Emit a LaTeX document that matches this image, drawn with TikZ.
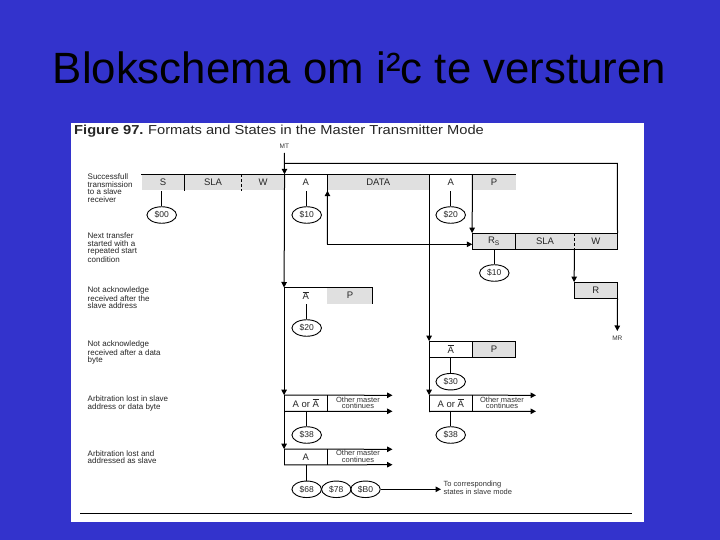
\documentclass[tikz,border=0pt]{standalone}
\usepackage{fontspec}
\usepackage{graphicx}
\setmainfont{Liberation Sans}
\usetikzlibrary{arrows.meta,shapes.geometric}
\definecolor{slideblue}{HTML}{3333CC}
\definecolor{cellgray}{HTML}{E0E0E0}
\tikzset{
  x=1pt,y=-1pt,
  cell/.style={inner sep=0pt,minimum height=16pt,font=\fontsize{9.5}{10}\selectfont,text=black!85},
  cellg/.style={cell,fill=cellgray},
  state/.style={ellipse,draw=black,line width=0.9pt,inner sep=0pt,minimum width=29.5pt,minimum height=16.5pt,font=\fontsize{8.5}{9}\selectfont,text=black!85},
  note/.style={anchor=north west,inner sep=0pt,align=left,font=\fontsize{8}{7.4}\selectfont,text=black!85},
  other/.style={inner sep=0pt,align=center,font=\fontsize{7.5}{6.6}\selectfont,text=black!80},
  tiny/.style={inner sep=0pt,font=\fontsize{6.5}{7}\selectfont,text=black!80},
  wire/.style={line width=1pt,draw=black},
  arr/.style={wire,-{Triangle[length=5.5pt,width=5.5pt]}},
}
\newcommand{\nack}{$\overline{\mbox{A}}$}
\begin{document}
\begin{tikzpicture}
\useasboundingbox (0,0) rectangle (720,540);
\fill[slideblue] (0,0) rectangle (720,540);
\fill[white] (71,123) rectangle (644,522);
\node[inner sep=0pt,font=\fontsize{43.8}{48}\selectfont] (title) at (359.5,68) {Blokschema om i²c te versturen};
\node[anchor=base west,inner sep=0pt,font=\fontsize{13}{15}\selectfont,text=black!85] (fig) at (74,135) {\scalebox{1.13}[1]{\textbf{Figure 97.}\hspace{4pt}Formats and States in the Master Transmitter Mode}};

% left notes
\node[note] (n1) at (87.5,174) {Successfull\\transmission\\to a slave\\receiver};
\node[note] (n2) at (87.5,233) {Next transfer\\started with a\\repeated start\\condition};
\node[note] (n3) at (87.5,287) {Not acknowledge\\received after the\\slave address};
\node[note] (n4) at (87.5,341) {Not acknowledge\\received after a data\\byte};
\node[note] (n5) at (87.5,396) {Arbitration lost in slave\\address or data byte};
\node[note] (n6) at (87.5,450) {Arbitration lost and\\addressed as slave};

% first row
\node[cellg,minimum width=42.7pt] (S) at (163,182.5) {S};
\node[cellg,minimum width=57.3pt] (SLA) at (213,182.5) {SLA};
\node[cellg,minimum width=42.7pt] (W) at (263,182.5) {W};
\node[cell,minimum width=43pt] (A) at (305.8,182.5) {A};
\node[cellg,minimum width=102pt] (D) at (378.3,182.5) {DATA};
\node[cell,minimum width=43pt] (AB) at (450.8,182.5) {A};
\node[cellg,minimum width=43.4pt] (P) at (494,182.5) {P};
% repeated start row
\node[cellg,minimum width=43.4pt] (RS) at (494,241.3) {R\textsubscript{S}};
\node[cellg,minimum width=58.6pt] (SLB) at (545,241.3) {SLA};
\node[cellg,minimum width=43pt] (WB) at (595.8,241.3) {W};
\node[cellg,minimum width=43pt] (R) at (595.8,290.3) {R};
% not acknowledge rows
\node[cell,minimum width=43pt] (NA) at (305.8,295.7) {\nack};
\node[cellg,minimum width=45.4pt] (NP) at (350,295.7) {P};
\node[cell,minimum width=43pt] (NB) at (450.8,349.3) {\nack};
\node[cellg,minimum width=43.4pt] (NQ) at (494,349.3) {P};
% arbitration rows
\node[cell,minimum width=43pt] (LA) at (305.8,403.3) {A or \nack};
\node[cell,minimum width=43pt] (LB) at (450.8,403.3) {A or \nack};
\node[cell,minimum width=43pt,minimum height=15.4pt] (LC) at (305.8,457) {A};
\node[other] (oa) at (358,403) {Other master\\continues};
\node[other] (ob) at (502,403) {Other master\\continues};
\node[other] (oc) at (358,456.5) {Other master\\continues};

% states
\node[state] (s00) at (161.7,215) {\$00};
\node[state] (s10) at (306.7,215) {\$10};
\node[state] (s20) at (450.7,215) {\$20};
\node[state] (s1b) at (494.3,273) {\$10};
\node[state] (s2b) at (306.7,328) {\$20};
\node[state] (s30) at (450.7,381.7) {\$30};
\node[state] (s38) at (306.7,435) {\$38};
\node[state] (s3b) at (450.7,435) {\$38};
\node[state] (s68) at (306.7,489.3) {\$68};
\node[state] (s78) at (336.3,489.3) {\$78};
\node[state] (sB0) at (365.5,489.3) {\$B0};

\node[tiny] (mt) at (284.3,146) {MT};
\node[tiny] (mr) at (617.3,338) {MR};
\node[other,anchor=west,align=left,font=\fontsize{7.5}{6.6}\selectfont] (to) at (443.5,488) {To corresponding\\states in slave mode};

% helper points
\coordinate (railL) at (284.3,163.3);
\coordinate (railR) at (617.3,163.3);
\coordinate (mtS) at (284.3,153);
\coordinate (retL) at (327.3,244.3);
\coordinate (retR) at (472.3,244.3);
\coordinate (mrN) at (617.3,331);
\coordinate (oaT) at (392.5,395.3);
\coordinate (oaB) at (392.5,411.3);
\coordinate (obT) at (536,395.3);
\coordinate (obB) at (536,411.3);
\coordinate (ocT) at (392.5,449.3);
\coordinate (ocB) at (392.5,464.7);
\coordinate (toW) at (441,489.3);
\coordinate (ruleL) at (80,513);
\coordinate (ruleR) at (632,513);

% row borders
\draw[wire] (S.north west) -- (P.north east);
\draw[wire] (S.north east) -- (S.south east);
\draw[wire,densely dashed] (SLA.north east) -- (SLA.south east);
\draw[wire] (A.north east) -- (A.south east);
\draw[wire] (AB.north east) -- (AB.south east);
\draw[wire] (RS.north west) -- (WB.north east) -- (WB.south east) -- (RS.south west) -- cycle;
\draw[wire] (RS.north east) -- (RS.south east);
\draw[wire,densely dashed] (SLB.north east) -- (SLB.south east);
\draw[wire] (R.south east) -- (R.north east) -- (R.north west) -- (R.south west) -- cycle;
\draw[wire] (NA.north west) -- (NP.north east) -- (NP.south east);
\draw[wire] (NB.north west) -- (NQ.north east) -- (NQ.south east) -- (NB.south west) -- cycle;
\draw[wire] (NB.north east) -- (NB.south east);
\draw[wire] (LA.north east) -- (LA.south east);
\draw[wire] (LB.north east) -- (LB.south east);
\draw[wire] (LC.north east) -- (LC.south east);
\draw[arr] (LA.north west) -- (oaT);
\draw[arr] (LA.south west) -- (oaB);
\draw[arr] (LB.north west) -- (obT);
\draw[arr] (LB.south west) -- (obB);
\draw[arr] (LC.north west) -- (ocT);
\draw[arr] (LC.south west) -- (ocB);
% rails
\draw[arr] (mtS) -- (W.north east);
\draw[wire] (railL) -- (railR) -- (WB.north east);
\draw[arr] (W.north east) -- (NA.north west);
\draw[arr] (NA.north west) -- (LA.north west);
\draw[arr] (LA.south west) -- (LC.north west);
\draw[wire] (LC.north west) -- (LC.south west);
\draw[wire] (LA.north west) -- (LA.south west);
\draw[arr] (retL) -- (A.south east);
\draw[arr] (retL) -- (retR);
\draw[arr] (AB.north east) -- (RS.north west);
\draw[arr] (AB.north west) -- (NB.north west);
\draw[arr] (NB.north west) -- (LB.north west);
\draw[wire] (LB.north west) -- (LB.south west);
\draw[arr] (SLB.south east) -- (R.north west);
\draw[arr] (R.south east) -- (mrN);
% stems
\draw[wire] (s00.north) -- (S.south -| s00);
\draw[wire] (s10.north) -- (A.south -| s10);
\draw[wire] (s20.north) -- (AB.south -| s20);
\draw[wire] (s1b.north) -- (RS.south -| s1b);
\draw[wire] (s2b.north) -- (NA.south -| s2b);
\draw[wire] (s30.north) -- (NB.south -| s30);
\draw[wire] (s38.north) -- (LA.south -| s38);
\draw[wire] (s3b.north) -- (LB.south -| s3b);
\draw[wire] (s68.north) -- (LC.south -| s68);
\draw[arr] (sB0.east) -- (toW);
\draw[wire] (ruleL) -- (ruleR);
\end{tikzpicture}
\end{document}
